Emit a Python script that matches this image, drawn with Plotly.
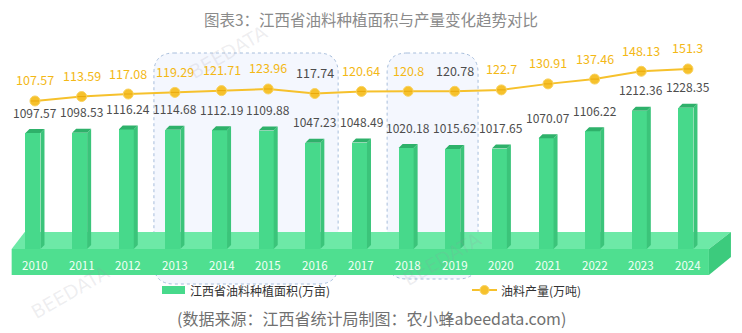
import plotly.graph_objects as go

# ---------------- data ----------------
years = [str(y) for y in range(2010, 2025)]
area = [1097.57, 1098.53, 1116.24, 1114.68, 1112.19, 1109.88, 1047.23, 1048.49,
        1020.18, 1015.62, 1017.65, 1070.07, 1106.22, 1212.36, 1228.35]
output = [107.57, 113.59, 117.08, 119.29, 121.71, 123.96, 117.74, 120.64,
          120.8, 120.78, 122.7, 130.91, 137.46, 148.13, 151.3]
area_name = "江西省油料种植面积(万亩)"
output_name = "油料产量(万吨)"
title_text = "图表3：江西省油料种植面积与产量变化趋势对比"
source_text = "(数据来源：江西省统计局制图：农小蜂abeedata.com)"
watermark_text = "BEEDATA"
highlight_groups = [("2013", "2016", 284), ("2018", "2019", 279)]
dark_output_labels = ["2016", "2019"]

# ---------------- style ----------------
W, H = 742, 333
FONT = "Noto Sans CJK SC"
GREEN_FRONT = "#47d98b"
GREEN_SIDE = "#3bc47a"
GREEN_TOP = "#2eb16a"
PLAT_FRONT = "#4fdf90"
PLAT_TOP = "#6de9a7"
PLAT_SIDE = "#3ccb7d"
GOLD = "#f6c12c"
GOLD_TXT = "#f3b816"
DARK_TXT = "#4d4d4d"

n = len(years)
idx = list(range(n))
XR = [-0.750, 15.159]
YR = [67, 1783]
Y2R = [-209.4, 245.5]
px_x = W / (XR[1] - XR[0])
px_y = H / (YR[1] - YR[0])
BASE = 500

fw, foff, sw = 0.322, -0.204, 0.086     # bar front width / offset / side depth (x units)
dep = 4 / px_y                          # bar depth (y units)

fig = go.Figure()

# front faces
fig.add_trace(go.Bar(x=idx, y=[v - BASE for v in area], base=BASE, width=fw, offset=foff,
                     marker=dict(color=GREEN_FRONT, line=dict(width=0)),
                     showlegend=False, hoverinfo="skip"))
# side and top faces
sx, sy, tx, ty = [], [], [], []
for i, v in zip(idx, area):
    r = i + foff + fw
    sx += [r, r + sw, r + sw, r, r, None]
    sy += [BASE, BASE + dep, v + dep, v, BASE, None]
    l = i + foff
    tx += [l, l + sw, r + sw, r, l, None]
    ty += [v, v + dep, v + dep, v, v, None]
fig.add_trace(go.Scatter(x=sx, y=sy, fill="toself", fillcolor=GREEN_SIDE, mode="lines",
                         line=dict(width=0, color=GREEN_SIDE), showlegend=False, hoverinfo="skip"))
fig.add_trace(go.Scatter(x=tx, y=ty, fill="toself", fillcolor=GREEN_TOP, mode="lines",
                         line=dict(width=0, color=GREEN_TOP), showlegend=False, hoverinfo="skip"))

# line
fig.add_trace(go.Scatter(x=idx, y=output, yaxis="y2", mode="lines+markers",
                         line=dict(color=GOLD, width=2),
                         marker=dict(size=10, color=GOLD, line=dict(color="#f9d25e", width=1)),
                         showlegend=False, hoverinfo="skip"))
fig.add_trace(go.Scatter(x=idx, y=output, yaxis="y2", mode="markers",
                         marker=dict(symbol="line-ew", size=6, line=dict(color="#eaa90c", width=1)),
                         showlegend=False, hoverinfo="skip"))

shapes = []
# platform
x_l = -0.5
x_r = n - 1 + 0.45
ddx = 22 / px_x
top_y = BASE + 17 / px_y
bot_y = BASE - 26 / px_y
side_bot = BASE - 8 / px_y
shapes.append(dict(type="path", xref="x", yref="y", layer="below", line=dict(width=0),
                   fillcolor=PLAT_TOP,
                   path=f"M {x_l},{BASE} L {x_l+0.28},{top_y} L {x_r+ddx},{top_y} L {x_r},{BASE} Z"))
shapes.append(dict(type="rect", xref="x", yref="y", layer="below", line=dict(width=0),
                   fillcolor=PLAT_FRONT, x0=x_l, x1=x_r, y0=bot_y, y1=BASE))
shapes.append(dict(type="path", xref="x", yref="y", layer="below", line=dict(width=0),
                   fillcolor=PLAT_SIDE,
                   path=f"M {x_r},{BASE} L {x_r+ddx},{top_y} L {x_r+ddx},{side_bot} L {x_r},{bot_y} Z"))

# highlight boxes
for a, b, bpx in highlight_groups:
    x0 = years.index(a) - 0.45
    x1 = years.index(b) + 0.5
    y1 = 1 - 53 / H
    y0 = 1 - bpx / H
    rx = 20 / px_x
    ry = 20 / H
    p = (f"M {x0+rx},{y1} L {x1-rx},{y1} Q {x1},{y1} {x1},{y1-ry} L {x1},{y0+ry} "
         f"Q {x1},{y0} {x1-rx},{y0} L {x0+rx},{y0} Q {x0},{y0} {x0},{y0+ry} "
         f"L {x0},{y1-ry} Q {x0},{y1} {x0+rx},{y1} Z")
    shapes.append(dict(type="path", xref="x", yref="paper", layer="below", path=p,
                       fillcolor="rgba(238,243,253,0.65)",
                       line=dict(color="#a7bedc", width=1, dash="dot")))

# legend
shapes.append(dict(type="rect", xref="paper", yref="paper", x0=162 / W, x1=185 / W,
                   y0=1 - 294 / H, y1=1 - 286 / H, fillcolor=GREEN_FRONT, line=dict(width=0)))
shapes.append(dict(type="line", xref="paper", yref="paper", x0=472 / W, x1=497 / W,
                   y0=1 - 290 / H, y1=1 - 290 / H, line=dict(color=GOLD, width=2)))
shapes.append(dict(type="circle", xref="paper", yref="paper", x0=480 / W, x1=489 / W,
                   y0=1 - 294.5 / H, y1=1 - 285.5 / H, fillcolor=GOLD, line=dict(color="#f9d25e", width=1)))

C = dict(xanchor="center", yanchor="middle", showarrow=False)
ann = []
# faint watermarks
for wx, wy in [(442, 259), (228, 52), (70, 292)]:
    ann.append(dict(x=wx / W, y=1 - wy / H, xref="paper", yref="paper", text=watermark_text,
                    textangle=-30, font=dict(family="DejaVu Sans", size=19, color="rgba(150,150,165,0.16)"), **C))
for i, v in zip(idx, area):
    ann.append(dict(x=i, y=v, xref="x", yref="y", text=f"{v:g}", yshift=21,
                    font=dict(family=FONT, size=12, color=DARK_TXT), **C))
for i, v in zip(idx, output):
    col = DARK_TXT if years[i] in dark_output_labels else GOLD_TXT
    ann.append(dict(x=i, y=v, xref="x", yref="y2", text=f"{v:g}", yshift=21,
                    font=dict(family=FONT, size=12.5, color=col), **C))
for i, y in zip(idx, years):
    ann.append(dict(x=i, y=1 - 265 / H, xref="x", yref="paper", text=y,
                    font=dict(family=FONT, size=11.5, color="#f2fff7"), **C))
ann.append(dict(x=0.5, y=1 - 19 / H, xref="paper", yref="paper", text=title_text,
                font=dict(family=FONT, size=15.5, color="#8a8a8a"), **C))
ann.append(dict(x=188 / W, y=1 - 290 / H, xref="paper", yref="paper", text=area_name,
                xanchor="left", yanchor="middle", showarrow=False,
                font=dict(family=FONT, size=12, color="#333333")))
ann.append(dict(x=499 / W, y=1 - 290 / H, xref="paper", yref="paper", text=output_name,
                xanchor="left", yanchor="middle", showarrow=False,
                font=dict(family=FONT, size=12, color="#333333")))
ann.append(dict(x=0.5, y=1 - 318 / H, xref="paper", yref="paper", text=source_text,
                font=dict(family=FONT, size=16, color="#707070"), **C))

fig.update_layout(
    width=W, height=H, margin=dict(l=0, r=0, t=0, b=0),
    paper_bgcolor="white", plot_bgcolor="white",
    xaxis=dict(range=XR, visible=False, fixedrange=True),
    yaxis=dict(range=YR, visible=False, fixedrange=True),
    yaxis2=dict(range=Y2R, visible=False, overlaying="y", fixedrange=True),
    shapes=shapes, annotations=ann, showlegend=False, bargap=0,
)
fig.write_html("out.html")
